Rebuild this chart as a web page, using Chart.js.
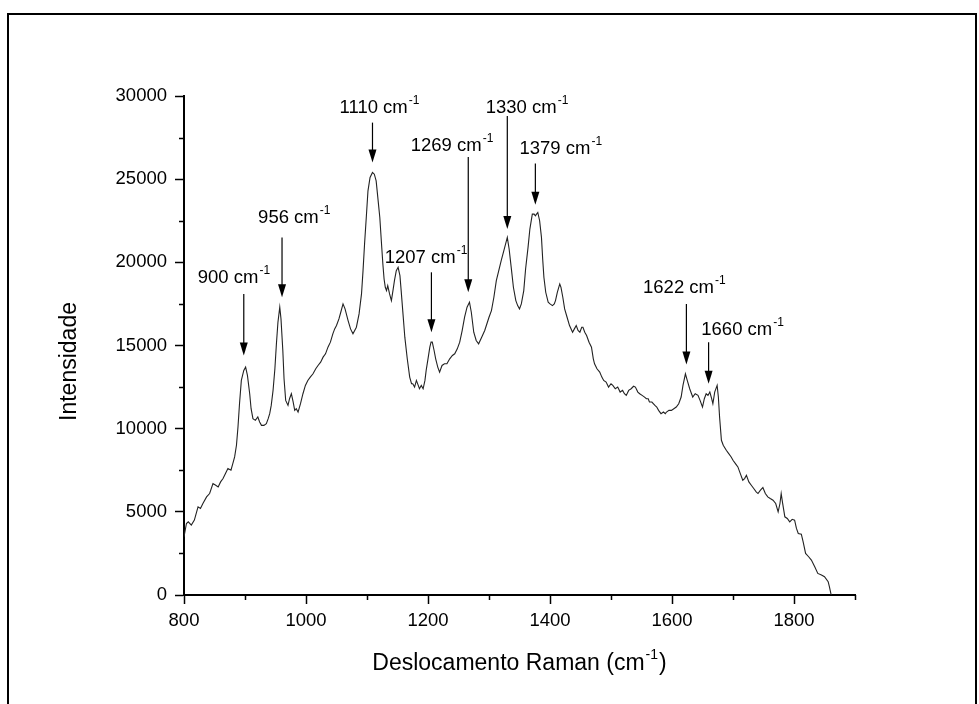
<!DOCTYPE html>
<html>
<head>
<meta charset="utf-8">
<script src="https://cdn.jsdelivr.net/npm/chart.js@4.4.1/dist/chart.umd.min.js"></script>
<style>
  html, body { margin: 0; padding: 0; background: #fff; }
  #wrap { position: relative; width: 979px; height: 704px; overflow: hidden; }
  #frame { position: absolute; left: 7px; top: 13px; width: 970px; height: 720px;
           border: 2px solid #000; box-sizing: border-box; }
  #chart { position: absolute; left: 0; top: 0; }
</style>
</head>
<body>
<div id="wrap">
  <div id="frame"></div>
  <canvas id="chart" width="979" height="704"></canvas>
</div>
<script>
// Espectro Raman
const wavenumbers = [
  800, 804, 807, 812, 817, 823, 827, 831, 837, 842, 847.5, 852, 856, 860, 864, 868, 872, 877, 880, 883,
  886, 888.5, 891, 894, 898, 901, 904, 907.7, 910, 913, 917, 921, 924, 927, 931, 935, 938, 940.5, 943, 946,
  949, 951.5, 954, 957, 959, 962, 964, 966.7, 970.5, 973, 976, 979, 981.5, 984, 987, 991, 995, 999, 1003, 1007,
  1011.5, 1016, 1019.7, 1024, 1028, 1032, 1036, 1040, 1044, 1047, 1050, 1054, 1057, 1060.7, 1064, 1069, 1073, 1077, 1082.6, 1087,
  1091, 1093.5, 1096, 1099, 1101.6, 1105, 1109, 1112, 1115, 1118, 1121, 1124, 1126, 1128, 1130, 1132, 1134, 1137, 1140, 1143,
  1145, 1148, 1151, 1154, 1156, 1159, 1162, 1166, 1170, 1173, 1175, 1178, 1181, 1184, 1186, 1189, 1192, 1195, 1197, 1200,
  1203, 1205, 1207, 1210, 1212.6, 1216, 1219, 1223, 1227, 1231, 1235.6, 1240, 1243.8, 1248, 1252, 1256, 1260, 1264, 1268, 1271,
  1275, 1279, 1283, 1288, 1293, 1300, 1304, 1308, 1312, 1316, 1320, 1325, 1330, 1333, 1337, 1340, 1344, 1347, 1350, 1353,
  1357, 1360, 1364, 1367, 1371, 1374, 1376, 1378, 1380, 1383, 1386, 1388, 1390, 1393, 1397, 1400, 1404, 1407, 1409, 1412,
  1416, 1418, 1421, 1424, 1428, 1432, 1437, 1440, 1443, 1446, 1449, 1452, 1454, 1457, 1460, 1464, 1468, 1471, 1473, 1477,
  1481.5, 1485, 1488, 1492, 1496, 1500, 1503, 1507, 1511, 1515, 1519, 1522, 1525, 1529, 1533, 1537, 1540, 1544, 1547, 1551,
  1555, 1558, 1561, 1563, 1567, 1572, 1575, 1578, 1582, 1586, 1589, 1591, 1595, 1599, 1603, 1607, 1611, 1615, 1618, 1622,
  1625, 1629, 1632, 1634, 1638, 1642.6, 1646, 1650, 1653, 1656, 1659, 1662, 1665, 1667, 1670, 1674, 1676, 1678, 1681, 1684,
  1689, 1693, 1697, 1700, 1704, 1708, 1712, 1716, 1719, 1722, 1726, 1730, 1734, 1738, 1741, 1745, 1749, 1753, 1757, 1761,
  1765.6, 1770, 1774, 1777, 1779, 1781, 1785, 1789, 1793, 1797, 1801, 1804, 1807, 1812, 1815, 1819, 1824, 1828.5, 1834, 1839,
  1845, 1850, 1856, 1858, 1861
];
const intensities = [
  3500, 4300, 4400, 4200, 4500, 5300, 5200, 5500, 5900, 6100, 6700, 6600, 6500, 6800, 7000, 7300, 7600, 7500, 7900, 8300,
  9000, 10100, 11500, 12900, 13500, 13700, 13200, 12100, 11200, 10600, 10500, 10700, 10400, 10200, 10200, 10300, 10600, 10900, 11400, 12300,
  13600, 15100, 16400, 17300, 16600, 14700, 13000, 11700, 11400, 11800, 12100, 11600, 11100, 11200, 11000, 11500, 12100, 12600, 12900, 13100,
  13300, 13600, 13800, 14000, 14300, 14500, 14900, 15200, 15700, 16000, 16200, 16600, 17000, 17500, 17200, 16500, 16000, 15700, 16100, 16900,
  18100, 19500, 21100, 22800, 24300, 25100, 25400, 25300, 24900, 23800, 22700, 21000, 19900, 19000, 18500, 18300, 18600, 18100, 17700, 18400,
  18900, 19500, 19700, 19200, 18300, 16900, 15500, 14200, 13100, 12700, 12700, 12500, 12900, 12600, 12400, 12600, 12400, 12900, 13500, 14200,
  14900, 15200, 15200, 14700, 14200, 13700, 13400, 13800, 13900, 13900, 14200, 14400, 14500, 14800, 15200, 15900, 16700, 17300, 17600, 17000,
  15800, 15300, 15100, 15500, 15900, 16700, 17100, 17900, 18900, 19500, 20100, 20800, 21500, 20800, 19500, 18500, 17700, 17400, 17200, 17500,
  18300, 19600, 20900, 22000, 22900, 22900, 22800, 22900, 23000, 22500, 21500, 20200, 19100, 18200, 17600, 17500, 17400, 17500, 17700, 18200,
  18700, 18500, 17900, 17200, 16700, 16200, 15800, 16000, 16200, 15900, 15800, 16100, 16100, 15800, 15600, 15200, 14900, 14200, 13900, 13600,
  13400, 13100, 12900, 12800, 12500, 12700, 12600, 12400, 12500, 12200, 12300, 12100, 12000, 12300, 12400, 12550, 12500, 12200, 12100, 12000,
  11900, 11800, 11800, 11600, 11600, 11400, 11300, 11100, 10900, 11000, 10900, 11000, 11100, 11100, 11200, 11300, 11500, 11900, 12600, 13300,
  12900, 12400, 12100, 11900, 12100, 12000, 11700, 11300, 11800, 12100, 12000, 12200, 11800, 11500, 12200, 12600, 11900, 10700, 9300, 9000,
  8700, 8500, 8300, 8100, 7900, 7700, 7300, 6900, 7000, 7200, 6800, 6600, 6400, 6200, 6100, 6300, 6460, 6100, 5900, 5800,
  5700, 5500, 5000, 5500, 6100, 5600, 4700, 4600, 4400, 4550, 4500, 4000, 3700, 3660, 3200, 2500, 2300, 2100, 1700, 1300,
  1200, 1100, 800, 500, 0
];

// Anotações dos picos
const peakLabels = ['900', '956', '1110', '1207', '1269', '1330', '1379', '1622', '1660'];
const arrowX     = [898, 960.7, 1109, 1205.6, 1266, 1330, 1376, 1623.6, 1660];
const arrowTop   = [18100, 21500, 28400, 19400, 26340, 28800, 25940, 17500, 15200];
const arrowTip   = [14400, 17900, 26000, 15800, 18200, 22000, 23460, 13860, 12700];
const labelX     = [822.5, 921.5, 1055, 1129, 1171.6, 1294.6, 1350, 1552.5, 1648];
const labelY     = [18780, 22340, 29000, 19940, 26700, 28960, 26540, 18160, 15660];

// Eixos
const xMin = 800, xMax = 1900, xStep = 200;
const yMin = 0, yMax = 30000, yStep = 5000;
const xTitle = 'Deslocamento Raman (cm';
const yTitle = 'Intensidade';

const FONT = '"Liberation Sans", Arial, sans-serif';

// texto com expoente "-1"
function drawWithSup(ctx, main, sup, tail, x, y, size, supSize, rise) {
  ctx.font = size + 'px ' + FONT;
  ctx.fillText(main, x, y);
  let w = ctx.measureText(main).width;
  ctx.font = supSize + 'px ' + FONT;
  ctx.fillText(sup, x + w + 1, y - rise);
  w += 1 + ctx.measureText(sup).width;
  if (tail) {
    ctx.font = size + 'px ' + FONT;
    ctx.fillText(tail, x + w + 1, y);
  }
}

function textWidthWithSup(ctx, main, sup, tail, size, supSize) {
  ctx.font = size + 'px ' + FONT;
  let w = ctx.measureText(main).width + (tail ? ctx.measureText(tail).width + 1 : 0);
  ctx.font = supSize + 'px ' + FONT;
  return w + 1 + ctx.measureText(sup).width;
}

const decorPlugin = {
  id: 'decor',
  afterDraw(chart) {
    const { ctx, chartArea } = chart;
    const x = chart.scales.x, y = chart.scales.y;
    ctx.save();
    ctx.strokeStyle = '#000';
    ctx.fillStyle = '#000';

    // ticks menores
    ctx.lineWidth = 1.5;
    ctx.beginPath();
    for (let v = xMin + xStep / 2; v <= xMax; v += xStep) {
      const px = Math.round(x.getPixelForValue(v)) + 0.5;
      ctx.moveTo(px, chartArea.bottom);
      ctx.lineTo(px, chartArea.bottom + 5);
    }
    for (let v = yMin + yStep / 2; v <= yMax; v += yStep) {
      const py = Math.round(y.getPixelForValue(v)) + 0.5;
      ctx.moveTo(chartArea.left, py);
      ctx.lineTo(chartArea.left - 5, py);
    }
    ctx.stroke();

    // setas
    ctx.lineWidth = 1.2;
    for (let i = 0; i < arrowX.length; i++) {
      const px = x.getPixelForValue(arrowX[i]);
      const top = y.getPixelForValue(arrowTop[i]);
      const tip = y.getPixelForValue(arrowTip[i]);
      ctx.beginPath();
      ctx.moveTo(px, top);
      ctx.lineTo(px, tip - 10);
      ctx.stroke();
      ctx.beginPath();
      ctx.moveTo(px - 4, tip - 13);
      ctx.lineTo(px + 4, tip - 13);
      ctx.lineTo(px, tip);
      ctx.closePath();
      ctx.fill();
    }

    // rótulos dos picos
    ctx.textAlign = 'left';
    ctx.textBaseline = 'alphabetic';
    for (let i = 0; i < peakLabels.length; i++) {
      drawWithSup(ctx, peakLabels[i] + ' cm', '-1', null,
        x.getPixelForValue(labelX[i]), y.getPixelForValue(labelY[i]), 18.5, 12, 9);
    }

    // título do eixo x
    const tw = textWidthWithSup(ctx, xTitle, '-1', ')', 23, 14);
    const cx = (chartArea.left + chartArea.right) / 2;
    drawWithSup(ctx, xTitle, '-1', ')', cx - tw / 2, 670, 23, 14, 11);

    // título do eixo y
    ctx.translate(70, (chartArea.top + chartArea.bottom) / 2 + 16);
    ctx.rotate(-Math.PI / 2);
    ctx.textAlign = 'center';
    ctx.textBaseline = 'middle';
    ctx.font = '23px ' + FONT;
    ctx.fillText(yTitle, 0, 0);
    ctx.restore();
  }
};

const points = wavenumbers.map((w, i) => ({ x: w, y: intensities[i] }));

new Chart(document.getElementById('chart'), {
  type: 'line',
  data: {
    datasets: [{
      data: points,
      borderColor: '#222',
      borderWidth: 1.1,
      pointRadius: 0,
      tension: 0,
      fill: false
    }]
  },
  options: {
    responsive: false,
    animation: false,
    layout: { padding: { left: 0, top: 96, right: 124, bottom: 0 } },
    plugins: { legend: { display: false }, tooltip: { enabled: false } },
    scales: {
      x: {
        type: 'linear',
        min: xMin, max: xMax,
        afterFit(scale) { scale.height = 704 - 595; },
        border: { display: true, color: '#000', width: 2 },
        grid: { drawOnChartArea: false, drawTicks: true, tickLength: 9, tickColor: '#000', tickWidth: 1.5 },
        ticks: {
          stepSize: xStep, includeBounds: false, maxRotation: 0, autoSkip: false,
          color: '#000', padding: 6, font: { family: FONT, size: 18.5 },
          callback: v => String(v)
        }
      },
      y: {
        min: yMin, max: yMax,
        afterFit(scale) { scale.width = 184; },
        border: { display: true, color: '#000', width: 2 },
        grid: { drawOnChartArea: false, drawTicks: true, tickLength: 9, tickColor: '#000', tickWidth: 1.5 },
        ticks: {
          stepSize: yStep, color: '#000', padding: 8, font: { family: FONT, size: 18.5 },
          callback: v => String(v)
        }
      }
    }
  },
  plugins: [decorPlugin]
});
</script>
</body>
</html>
